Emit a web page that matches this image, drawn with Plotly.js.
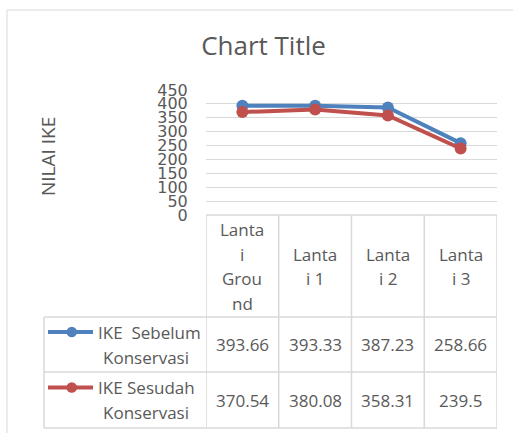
<!DOCTYPE html>
<html>
<head>
<meta charset="utf-8">
<script src="https://cdn.plot.ly/plotly-3.0.1.min.js"></script>
<style>html,body{margin:0;padding:0;background:#fff;}#chart{width:513px;height:433px;}</style>
</head>
<body>
<div id="chart"></div>
<script>
// ---- data ----
const categories = ["Lantai Ground", "Lantai 1", "Lantai 2", "Lantai 3"];
const headerLabels = [["Lanta", "i", "Grou", "nd"], ["Lanta", "i 1"], ["Lanta", "i 2"], ["Lanta", "i 3"]];
const seriesNames = ["IKE Sebelum Konservasi", "IKE Sesudah Konservasi"];
const legendLines = [["IKE  Sebelum", "Konservasi"], ["IKE Sesudah", "Konservasi"]];
const ikeSebelum = [393.66, 393.33, 387.23, 258.66];
const ikeSesudah = [370.54, 380.08, 358.31, 239.5];
const yTicks = [0, 50, 100, 150, 200, 250, 300, 350, 400, 450];

// ---- layout helpers ----
const W = 513, H = 433;
const M = {l: 206, r: 16, t: 90, b: 218};
const PW = W - M.l - M.r, PH = H - M.t - M.b;
const px = x => (x - M.l) / PW;          // pixel -> paper x
const py = y => (H - M.b - y) / PH;      // pixel -> paper y
const colors = ["#4F81BD", "#C0504D"];
const textColor = "#595959";
const gridColor = "#D9D9D9";
const FONT = "Open Sans, sans-serif";

const series = [ikeSebelum, ikeSesudah];
const idx = categories.map((c, i) => i);

const traces = series.map((vals, s) => ({
  type: "scatter", mode: "lines+markers",
  x: idx, y: vals, name: seriesNames[s],
  line: {color: colors[s], width: 4},
  marker: {color: colors[s], size: 12},
  hoverinfo: "x+y"
}));

const shapes = [];
const annotations = [];

// chart border
shapes.push({type: "rect", xref: "paper", yref: "paper", x0: px(7), x1: px(530), y0: py(450), y1: py(10),
  line: {color: gridColor, width: 1}, fillcolor: "rgba(0,0,0,0)", layer: "below"});

// table lines
const tTop = 215, tHdr = 317, tMid = 372, tBot = 428, tLeft = 44;
shapes.push({type: "line", xref: "x", yref: "paper", x0: -0.5, x1: categories.length - 0.5, y0: py(tTop), y1: py(tTop), line: {color: gridColor, width: 1.5}});
[tHdr, tMid, tBot].forEach(y => shapes.push({type: "line", xref: "paper", yref: "paper", x0: px(tLeft), x1: 1, y0: py(y), y1: py(y), line: {color: gridColor, width: 1.5}}));
for (let i = 0; i <= categories.length; i++) {
  shapes.push({type: "line", xref: "x", yref: "paper", x0: i - 0.5, x1: i - 0.5, y0: py(tTop), y1: py(tBot), line: {color: gridColor, width: 1.5}});
}
shapes.push({type: "line", xref: "paper", yref: "paper", x0: px(tLeft), x1: px(tLeft), y0: py(tHdr), y1: py(tBot), line: {color: gridColor, width: 1.5}});

// header labels
const hdrCenter = 266.5, hdrStep = 24.5;
headerLabels.forEach((lines, i) => {
  lines.forEach((t, k) => {
    const y = hdrCenter + (k - (lines.length - 1) / 2) * hdrStep;
    annotations.push({xref: "x", yref: "paper", x: i, y: py(y), text: t, showarrow: false,
      xanchor: "center", yanchor: "middle", font: {family: FONT, size: 17, color: textColor}});
  });
});

// value cells + legend keys
const rowCenters = [(tHdr + tMid) / 2, (tMid + tBot) / 2];
series.forEach((vals, s) => {
  vals.forEach((v, i) => {
    annotations.push({xref: "x", yref: "paper", x: i, y: py(rowCenters[s]), text: String(v), showarrow: false,
      xanchor: "center", yanchor: "middle", font: {family: FONT, size: 17, color: textColor}});
  });
  const l1 = rowCenters[s] - 12.5, l2 = rowCenters[s] + 12.5;
  annotations.push({xref: "paper", yref: "paper", x: px(96), y: py(l1), text: legendLines[s][0].replace(/ /g, "&nbsp;"), showarrow: false,
    xanchor: "left", yanchor: "middle", font: {family: FONT, size: 17, color: textColor}});
  annotations.push({xref: "paper", yref: "paper", x: px(191), y: py(l2), text: legendLines[s][1], showarrow: false,
    xanchor: "right", yanchor: "middle", font: {family: FONT, size: 17, color: textColor}});
  shapes.push({type: "line", xref: "paper", yref: "paper", x0: px(48), x1: px(93), y0: py(l1), y1: py(l1),
    line: {color: colors[s], width: 4}});
  shapes.push({type: "circle", xref: "paper", yref: "paper", x0: px(66.5), x1: px(77), y0: py(l1 + 5.25), y1: py(l1 - 5.25),
    line: {color: colors[s], width: 0}, fillcolor: colors[s]});
});

// y-axis title
annotations.push({xref: "paper", yref: "paper", x: px(48), y: py(157), text: "NILAI IKE", textangle: -90, showarrow: false,
  xanchor: "center", yanchor: "middle", font: {family: FONT, size: 19, color: textColor}});

const layout = {
  width: W, height: H,
  margin: M,
  paper_bgcolor: "#fff", plot_bgcolor: "#fff",
  showlegend: false,
  title: {text: "Chart Title", x: 263.5 / W, xanchor: "center", y: 1 - 46 / H, yanchor: "middle", yref: "container",
    font: {family: FONT, size: 26, color: textColor}},
  xaxis: {range: [-0.5, categories.length - 0.5], showticklabels: false, showgrid: false, zeroline: false, showline: false, fixedrange: true},
  yaxis: {range: [0, 450], tickvals: yTicks, ticktext: yTicks.map(String), showgrid: true, gridcolor: gridColor, gridwidth: 1,
    zeroline: false, showline: false, ticks: "outside", ticklen: 14, tickcolor: "rgba(0,0,0,0)",
    tickfont: {family: "DejaVu Sans, sans-serif", size: 16, color: textColor}, fixedrange: true},
  shapes: shapes,
  annotations: annotations
};

Plotly.newPlot("chart", traces, layout, {displayModeBar: false, staticPlot: true});
</script>
</body>
</html>
